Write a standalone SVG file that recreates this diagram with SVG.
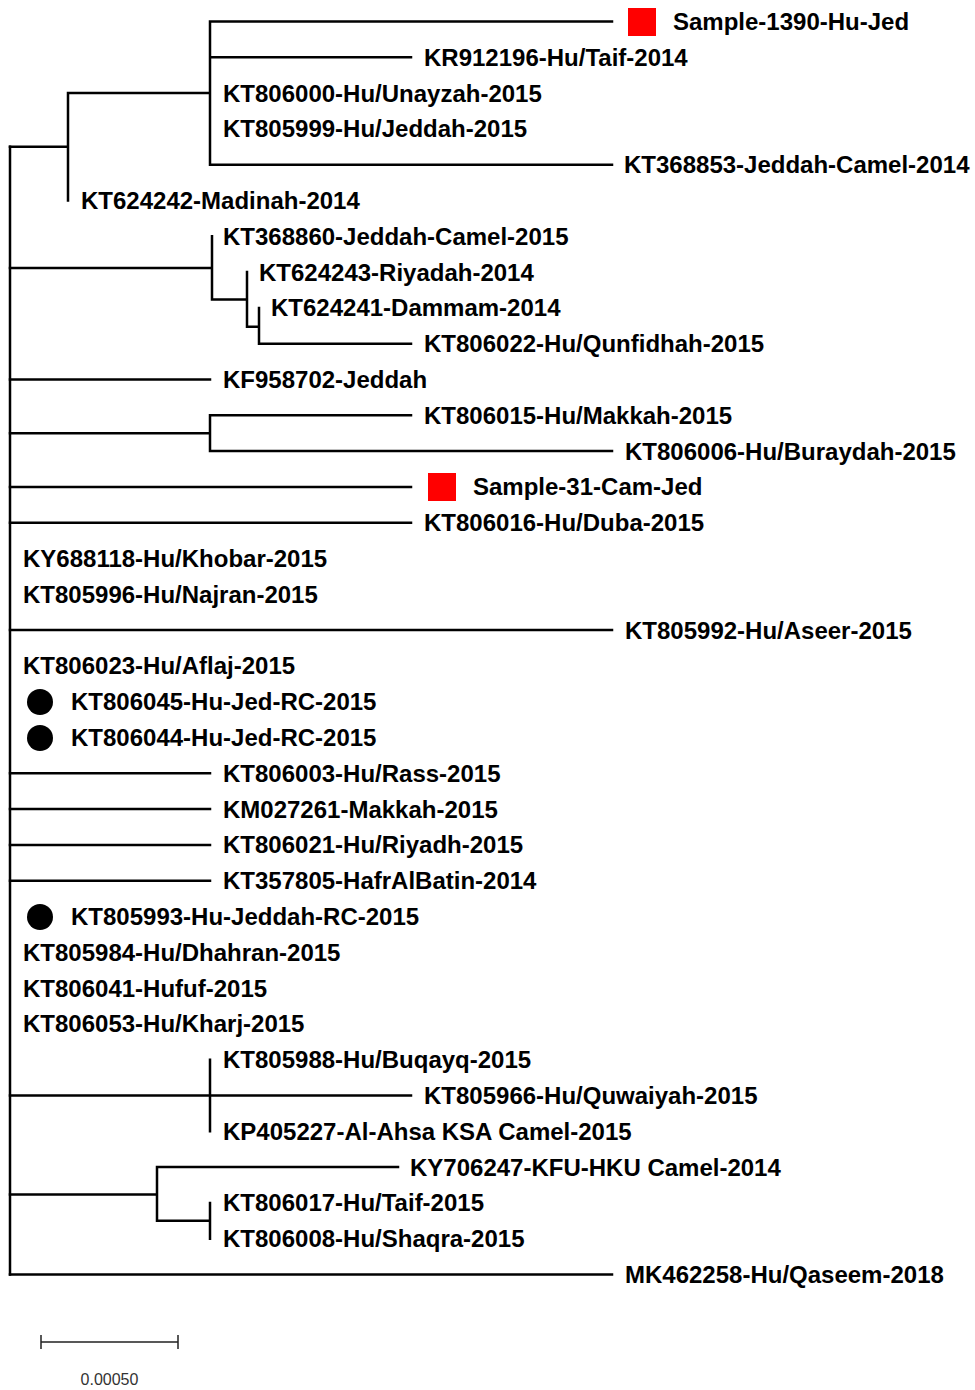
<svg xmlns="http://www.w3.org/2000/svg" width="975" height="1390" viewBox="0 0 975 1390">
<style>
.e{stroke:#000;stroke-width:2.5;fill:none;stroke-linecap:square}
.t{font-family:"Liberation Sans",Arial,sans-serif;font-weight:bold;font-size:24px;fill:#000}
.s{font-family:"Liberation Sans",Arial,sans-serif;font-size:16px;fill:#333}
.sq{fill:#ff0000}
</style>
<rect width="975" height="1390" fill="#fff"/>
<g id="connectors">
<path class="e" d="M10,146.8V1274.5"/>
<path class="e" d="M10,146.8H68M68,93.1V200.5M68,93.1H210M210,21.5V164.7M210,21.5H612M210,57.3H411M210,164.7H612"/>
<path class="e" d="M10,268H212M212,236.3V299.5M212,299.5H247M247,272.1V326.8M247,326.8H259M259,307.9V343.7M259,343.7H411"/>
<path class="e" d="M10,379.5H210"/>
<path class="e" d="M10,433.2H210M210,415.3V451.1M210,415.3H411M210,451.1H612"/>
<path class="e" d="M10,486.9H411"/>
<path class="e" d="M10,522.7H411"/>
<path class="e" d="M10,630.1H612"/>
<path class="e" d="M10,773.3H210M10,809.1H210M10,844.9H210M10,880.7H210"/>
<path class="e" d="M10,1095.5H411M210,1059.7V1131.3"/>
<path class="e" d="M10,1194.5H157M157,1167.1V1220.8M157,1167.1H398M157,1220.8H210M210,1202.9V1238.7"/>
<path class="e" d="M10,1274.5H612"/>
</g>
<g id="n-sample1390"><rect class="sq" x="628" y="8" width="28" height="28"/><text class="t" x="673" y="30">Sample-1390-Hu-Jed</text></g>
<g id="n-KR912196"><text class="t" x="424" y="65.8">KR912196-Hu/Taif-2014</text></g>
<g id="n-KT806000"><text class="t" x="223" y="101.6">KT806000-Hu/Unayzah-2015</text></g>
<g id="n-KT805999"><text class="t" x="223" y="137.4">KT805999-Hu/Jeddah-2015</text></g>
<g id="n-KT368853"><text class="t" x="624" y="173.2">KT368853-Jeddah-Camel-2014</text></g>
<g id="n-KT624242"><text class="t" x="81" y="209">KT624242-Madinah-2014</text></g>
<g id="n-KT368860"><text class="t" x="223" y="244.8">KT368860-Jeddah-Camel-2015</text></g>
<g id="n-KT624243"><text class="t" x="259" y="280.6">KT624243-Riyadah-2014</text></g>
<g id="n-KT624241"><text class="t" x="271" y="316.4">KT624241-Dammam-2014</text></g>
<g id="n-KT806022"><text class="t" x="424" y="352.2">KT806022-Hu/Qunfidhah-2015</text></g>
<g id="n-KF958702"><text class="t" x="223" y="388">KF958702-Jeddah</text></g>
<g id="n-KT806015"><text class="t" x="424" y="423.8">KT806015-Hu/Makkah-2015</text></g>
<g id="n-KT806006"><text class="t" x="625" y="459.6">KT806006-Hu/Buraydah-2015</text></g>
<g id="n-sample31"><rect class="sq" x="428" y="473" width="28" height="28"/><text class="t" x="473" y="495.4">Sample-31-Cam-Jed</text></g>
<g id="n-KT806016"><text class="t" x="424" y="531.2">KT806016-Hu/Duba-2015</text></g>
<g id="n-KY688118"><text class="t" x="23" y="567">KY688118-Hu/Khobar-2015</text></g>
<g id="n-KT805996"><text class="t" x="23" y="602.8">KT805996-Hu/Najran-2015</text></g>
<g id="n-KT805992"><text class="t" x="625" y="638.6">KT805992-Hu/Aseer-2015</text></g>
<g id="n-KT806023"><text class="t" x="23" y="674.4">KT806023-Hu/Aflaj-2015</text></g>
<g id="n-KT806045"><circle cx="40" cy="702" r="13"/><text class="t" x="71" y="710.2">KT806045-Hu-Jed-RC-2015</text></g>
<g id="n-KT806044"><circle cx="40" cy="738" r="13"/><text class="t" x="71" y="746">KT806044-Hu-Jed-RC-2015</text></g>
<g id="n-KT806003"><text class="t" x="223" y="781.8">KT806003-Hu/Rass-2015</text></g>
<g id="n-KM027261"><text class="t" x="223" y="817.6">KM027261-Makkah-2015</text></g>
<g id="n-KT806021"><text class="t" x="223" y="853.4">KT806021-Hu/Riyadh-2015</text></g>
<g id="n-KT357805"><text class="t" x="223" y="889.2">KT357805-HafrAlBatin-2014</text></g>
<g id="n-KT805993"><circle cx="40" cy="917" r="13"/><text class="t" x="71" y="925">KT805993-Hu-Jeddah-RC-2015</text></g>
<g id="n-KT805984"><text class="t" x="23" y="960.8">KT805984-Hu/Dhahran-2015</text></g>
<g id="n-KT806041"><text class="t" x="23" y="996.6">KT806041-Hufuf-2015</text></g>
<g id="n-KT806053"><text class="t" x="23" y="1032.4">KT806053-Hu/Kharj-2015</text></g>
<g id="n-KT805988"><text class="t" x="223" y="1068.2">KT805988-Hu/Buqayq-2015</text></g>
<g id="n-KT805966"><text class="t" x="424" y="1104">KT805966-Hu/Quwaiyah-2015</text></g>
<g id="n-KP405227"><text class="t" x="223" y="1139.8">KP405227-Al-Ahsa KSA Camel-2015</text></g>
<g id="n-KY706247"><text class="t" x="410" y="1175.6">KY706247-KFU-HKU Camel-2014</text></g>
<g id="n-KT806017"><text class="t" x="223" y="1211.4">KT806017-Hu/Taif-2015</text></g>
<g id="n-KT806008"><text class="t" x="223" y="1247.2">KT806008-Hu/Shaqra-2015</text></g>
<g id="n-MK462258"><text class="t" x="625" y="1283">MK462258-Hu/Qaseem-2018</text></g>
<g id="scale">
<path d="M41,1342H178M41,1335V1349M178,1335V1349" stroke="#222" stroke-width="1.5" fill="none"/>
<text class="s" x="109.5" y="1385" text-anchor="middle">0.00050</text>
</g>
</svg>
